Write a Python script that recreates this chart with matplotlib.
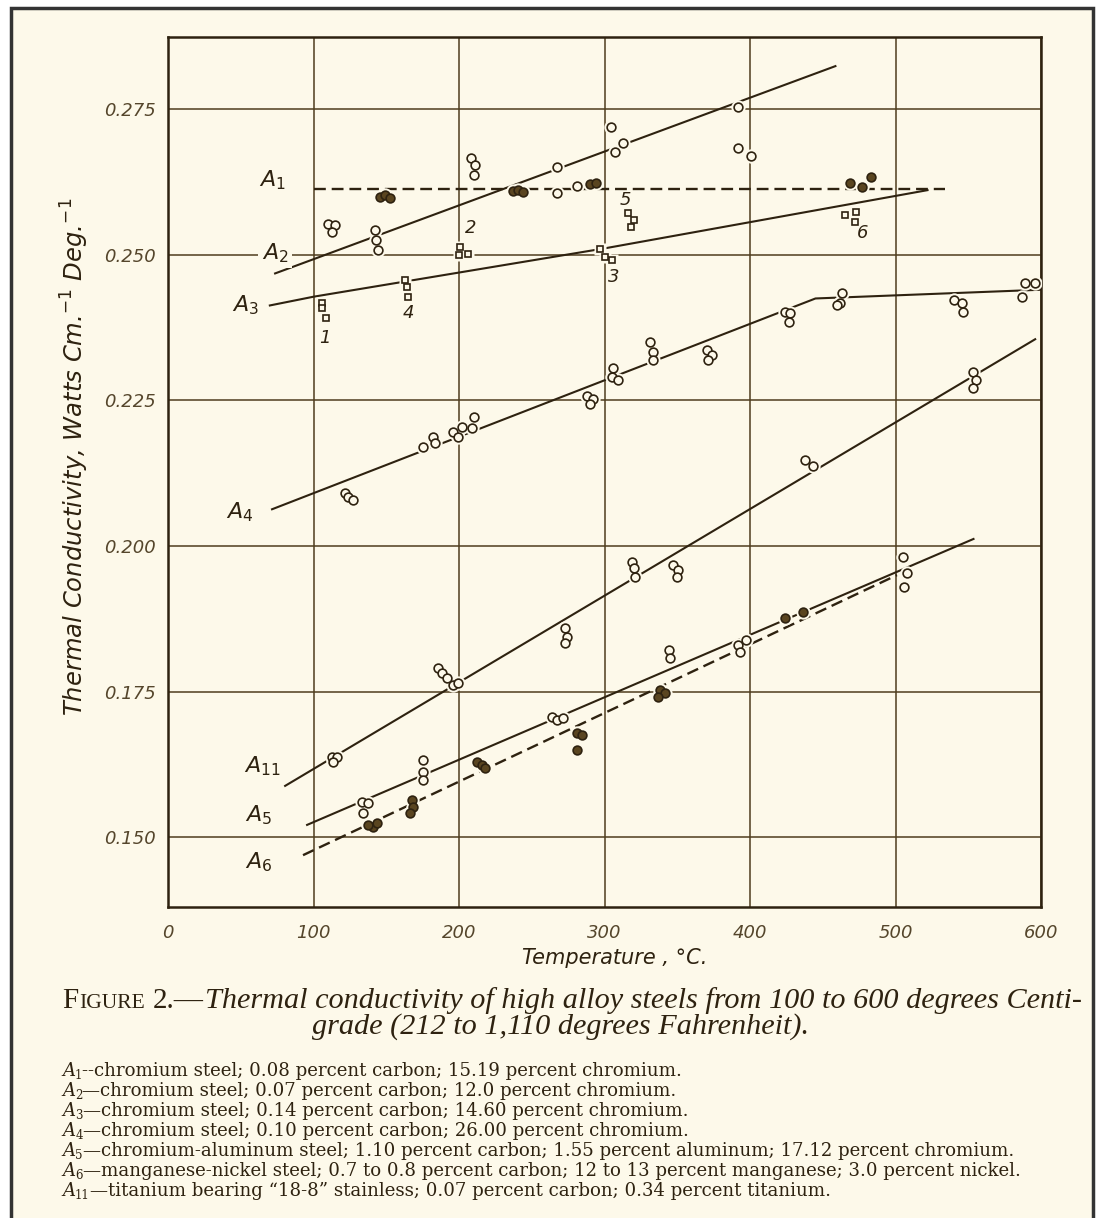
import matplotlib
matplotlib.use("Agg")
import matplotlib.pyplot as plt
from matplotlib.patches import Rectangle

# ---------------- data ----------------
# fitted curves (vertices, temperature degC / conductivity)
A1_line_x = [100, 534]
A1_line_y = [0.2613, 0.2613]
A2_line_x = [73.6, 458.7]
A2_line_y = [0.2468, 0.2824]
A3_line_x = [70, 100, 300, 522]
A3_line_y = [0.2413, 0.2428, 0.2511, 0.2611]
A4_line_x = [71.5, 445, 600]
A4_line_y = [0.2063, 0.2425, 0.2440]
A11_line_x = [80.5, 596]
A11_line_y = [0.1588, 0.2355]
A5_line_x = [95.6, 553.6]
A5_line_y = [0.1521, 0.2012]
A6_line_x = [92.8, 501]
A6_line_y = [0.1469, 0.1950]

# measured points
A2_pts_x = [110, 114.5, 112.4, 142.4, 143, 144, 208, 211, 210, 267.5, 304.7, 307.4, 313, 392, 392, 401]
A2_pts_y = [0.2553, 0.2551, 0.2539, 0.2542, 0.2525, 0.2508, 0.2666, 0.2654, 0.2637, 0.2650,
            0.2719, 0.2676, 0.2692, 0.2753, 0.2683, 0.2669]
A1_open_x = [267.5, 281]
A1_open_y = [0.2606, 0.2618]
A1_fill_x = [145.8, 149, 152.7, 237, 240.7, 244, 290, 294, 469, 477, 483.5]
A1_fill_y = [0.2599, 0.2602, 0.2597, 0.2609, 0.2611, 0.2607, 0.2621, 0.2623, 0.2623, 0.2616, 0.2633]
SQ_x = [106, 106, 108.5, 201, 206, 200, 297, 300.5, 305, 163, 164.4, 165, 316, 320, 318, 465.6, 473, 472.5]
SQ_y = [0.2418, 0.2408, 0.2392, 0.2513, 0.2502, 0.2500, 0.2510, 0.2496, 0.2491, 0.2456, 0.2444,
        0.2427, 0.2571, 0.2559, 0.2547, 0.2568, 0.2573, 0.2556]
A4_pts_x = [121.7, 124, 127, 175.4, 182, 183.6, 196, 199.4, 202, 209, 210, 288, 292, 290, 306, 305.4,
            309, 331.5, 333, 333.6, 370.7, 374, 371, 424, 427.8, 427, 463.5, 462, 460, 540, 546, 546.7,
            589, 596, 587]
A4_pts_y = [0.2091, 0.2084, 0.2079, 0.2170, 0.2187, 0.2177, 0.2195, 0.2187, 0.2204, 0.2202, 0.2221,
            0.2258, 0.2252, 0.2243, 0.2305, 0.2290, 0.2285, 0.2350, 0.2333, 0.2319, 0.2336, 0.2328,
            0.2319, 0.2401, 0.2400, 0.2384, 0.2434, 0.2417, 0.2414, 0.2422, 0.2417, 0.2401, 0.2451,
            0.2451, 0.2427]
A11_pts_x = [112.8, 116, 113.5, 185.7, 188.4, 191.9, 196, 199.4, 273, 274.4, 273, 319, 320, 321,
             347, 350.7, 350, 438, 443, 553.6, 555, 553.6]
A11_pts_y = [0.1637, 0.1637, 0.1629, 0.1790, 0.1782, 0.1773, 0.1761, 0.1764, 0.1859, 0.1843, 0.1833,
             0.1972, 0.1962, 0.1946, 0.1967, 0.1959, 0.1946, 0.2147, 0.2137, 0.2298, 0.2285, 0.2271]
A5_pts_x = [133.4, 137.5, 134, 175.4, 175.4, 175.4, 264, 267.5, 271.7, 344, 345, 392, 397, 393, 505, 508, 505.5]
A5_pts_y = [0.1560, 0.1558, 0.1541, 0.1632, 0.1612, 0.1598, 0.1706, 0.1701, 0.1705, 0.1821, 0.1807,
            0.1830, 0.1838, 0.1818, 0.1981, 0.1953, 0.1929]
A6_pts_x = [141, 137.5, 143.7, 167.8, 168.5, 166.4, 212.5, 216, 218, 281, 284.7, 281, 338.4, 341.8, 337, 424, 436.7]
A6_pts_y = [0.1517, 0.1521, 0.1524, 0.1564, 0.1552, 0.1541, 0.1629, 0.1624, 0.1619, 0.1679, 0.1675,
            0.1649, 0.1752, 0.1747, 0.1740, 0.1876, 0.1886]

curve_labels = ["$A_1$", "$A_2$", "$A_3$", "$A_4$", "$A_{11}$", "$A_5$", "$A_6$"]
curve_label_x = [71.5, 73.6, 53, 49.5, 64.6, 62, 62]
curve_label_y = [0.2628, 0.2503, 0.2413, 0.2058, 0.1622, 0.1538, 0.1457]
spec_labels = ["1", "2", "3", "4", "5", "6"]
spec_label_x = [108, 207.7, 306, 165, 314.3, 477.3]
spec_label_y = [0.2357, 0.2546, 0.2462, 0.2400, 0.2594, 0.2537]

x_ticks = [0, 100, 200, 300, 400, 500, 600]
x_ticklabels = ["0", "100", "200", "300", "400", "500", "600"]
y_ticks = [0.150, 0.175, 0.200, 0.225, 0.250, 0.275]
y_ticklabels = ["0.150", "0.175", "0.200", "0.225", "0.250", "0.275"]

caption_italic = "Thermal conductivity of high alloy steels from 100 to 600 degrees Centi-"
caption_line2 = "grade (212 to 1,110 degrees Fahrenheit)."
legend_subs = ["1", "2", "3", "4", "5", "6", "11"]
legend_texts = [
    "--chromium steel; 0.08 percent carbon; 15.19 percent chromium.",
    "\u2014chromium steel; 0.07 percent carbon; 12.0 percent chromium.",
    "\u2014chromium steel; 0.14 percent carbon; 14.60 percent chromium.",
    "\u2014chromium steel; 0.10 percent carbon; 26.00 percent chromium.",
    "\u2014chromium-aluminum steel; 1.10 percent carbon; 1.55 percent aluminum; 17.12 percent chromium.",
    "\u2014manganese-nickel steel; 0.7 to 0.8 percent carbon; 12 to 13 percent manganese; 3.0 percent nickel.",
    "\u2014titanium bearing \u201c18-8\u201d stainless; 0.07 percent carbon; 0.34 percent titanium.",
]

# ---------------- styling ----------------
BG = "#fdf9ea"
INK = "#2e2210"
GRID = "#4f3d1e"
TXT = "#55462c"

W, H = 1097, 1218
fig = plt.figure(figsize=(W / 100, H / 100), dpi=100)
fig.patch.set_facecolor("white")


def fx(px):
    return px / W


def fy(py):
    return 1 - py / H


panel = Rectangle((fx(11), fy(1240)), fx(1093) - fx(11), fy(8) - fy(1240),
                  transform=fig.transFigure, facecolor=BG, edgecolor="#333333",
                  lw=2.5, zorder=-10)
fig.patches.append(panel)

ax = fig.add_axes([fx(168), fy(907), fx(1041) - fx(168), fy(37) - fy(907)])
ax.set_facecolor(BG)
ax.set_xlim(0, 600)
ax.set_ylim(0.1380, 0.2874)
for sp in ax.spines.values():
    sp.set_color(INK)
    sp.set_linewidth(1.8)
ax.set_xticks(x_ticks)
ax.set_xticklabels(x_ticklabels)
ax.set_yticks(y_ticks)
ax.set_yticklabels(y_ticklabels)
ax.tick_params(length=0, labelsize=13, colors=TXT, pad=9)
ax.tick_params(axis="x", pad=12)
for lab in ax.get_xticklabels() + ax.get_yticklabels():
    lab.set_fontstyle("italic")
ax.grid(True, color=GRID, lw=1.1)
ax.set_axisbelow(True)

# curves
LW = 1.5
ax.plot(A1_line_x, A1_line_y, color=INK, lw=LW + 0.2, ls=(0, (5, 2.5)), zorder=2)
ax.plot(A2_line_x, A2_line_y, color=INK, lw=LW, zorder=2)
ax.plot(A3_line_x, A3_line_y, color=INK, lw=LW, zorder=2)
ax.plot(A4_line_x, A4_line_y, color=INK, lw=LW, zorder=2)
ax.plot(A11_line_x, A11_line_y, color=INK, lw=LW, zorder=2)
ax.plot(A5_line_x, A5_line_y, color=INK, lw=LW, zorder=2)
ax.plot(A6_line_x, A6_line_y, color=INK, lw=LW + 0.2, ls=(0, (5, 2.5)), zorder=2)


def pts(xs, ys, marker="o", filled=False, ms=6.3):
    ax.plot(xs, ys, marker, ms=ms + 4, mfc=BG, mec="none", ls="none", zorder=3)
    ax.plot(xs, ys, marker, ms=ms, mfc=("#5a4520" if filled else BG), mec=INK,
            mew=1.2, ls="none", zorder=4)


pts(A2_pts_x, A2_pts_y)
pts(A1_open_x, A1_open_y)
pts(A1_fill_x, A1_fill_y, filled=True)
pts(SQ_x, SQ_y, marker="s", ms=5.0)
pts(A4_pts_x, A4_pts_y)
pts(A11_pts_x, A11_pts_y)
pts(A5_pts_x, A5_pts_y)
pts(A6_pts_x, A6_pts_y, filled=True)

for s, x, y in zip(curve_labels, curve_label_x, curve_label_y):
    ax.text(x, y, s, fontsize=16, color=INK, ha="center", va="center", zorder=5,
            bbox=dict(boxstyle="square,pad=0.15", fc=BG, ec="none"))
for s, x, y in zip(spec_labels, spec_label_x, spec_label_y):
    ax.text(x, y, s, fontsize=13, color=INK, ha="center", va="center", style="italic", zorder=5)

# axis titles
fig.text(fx(615), fy(958), "Temperature , \u00b0C.", fontsize=15, style="italic",
         color=INK, ha="center", va="center")
fig.text(fx(75), fy(457), "Thermal Conductivity, Watts Cm.$^{-1}$ Deg.$^{-1}$",
         fontsize=17.5, style="italic", color=INK, rotation=90, ha="center", va="center")

# caption and legend (run of text pieces)
renderer = fig.canvas.get_renderer()


def run(x_px, y_px, parts):
    x = x_px
    for s, kw, dy, gap in parts:
        x += gap
        t = fig.text(fx(x), fy(y_px + dy), s, ha="left", va="baseline", color=INK, **kw)
        x += t.get_window_extent(renderer).width
    return x


SERIF = "Liberation Serif"
run(62, 1008, [
    ("F", dict(fontsize=21, family=SERIF), 0, 0),
    ("IGURE", dict(fontsize=15.5, family=SERIF), 0, 1),
    ("2.\u2014", dict(fontsize=21, family=SERIF), 0, 8),
    (caption_italic, dict(fontsize=21.8, family=SERIF, style="italic"), 0, 1),
])
fig.text(fx(561), fy(1034), caption_line2, fontsize=21.8, family=SERIF, style="italic",
         color=INK, ha="center", va="baseline")

LEG = "DejaVu Serif"
for i, (sub, txt) in enumerate(zip(legend_subs, legend_texts)):
    yb = 1076 + 20 * i
    run(62, yb, [
        ("A", dict(fontsize=13.1, family=LEG, style="italic"), 0, 0),
        (sub, dict(fontsize=8.5, family=LEG), 3, 0),
        (txt, dict(fontsize=13.1, family=LEG), 0, 0),
    ])

fig.savefig("out.png", dpi=100, facecolor="white")
